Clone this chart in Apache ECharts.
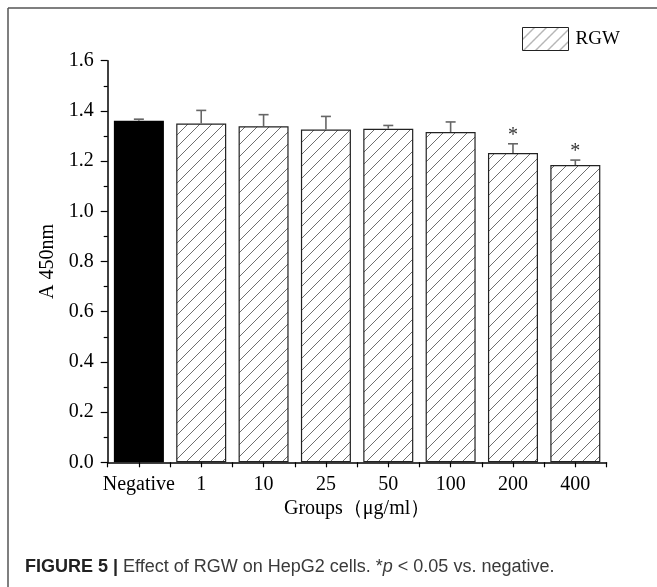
<!DOCTYPE html>
<html>
<head>
<meta charset="utf-8">
<script src="https://cdn.jsdelivr.net/npm/echarts@6/dist/echarts.min.js"></script>
<style>
html,body{margin:0;padding:0;background:#fff;}
#chart{width:657px;height:587px;}
</style>
</head>
<body>
<div id="chart"></div>
<script>
// ---- data ----
var categories = ['Negative', '1', '10', '25', '50', '100', '200', '400'];
var means = [1.361, 1.350, 1.339, 1.326, 1.329, 1.316, 1.232, 1.184];
var errors = [0.006, 0.052, 0.046, 0.052, 0.013, 0.040, 0.037, 0.020];
var marks = ['', '', '', '', '', '', '*', '*'];
var yTicks = { min: 0, max: 1.6, interval: 0.2 };
var seriesName = 'RGW';

// hatch pattern
function makeHatch() {
  var s = 12;
  var c = document.createElement('canvas');
  c.width = s; c.height = s;
  var ctx = c.getContext('2d');
  ctx.fillStyle = '#fff';
  ctx.fillRect(0, 0, s, s);
  ctx.strokeStyle = '#6e6e6e';
  ctx.lineWidth = 1;
  ctx.beginPath();
  ctx.moveTo(-1, s + 1); ctx.lineTo(s + 1, -1);
  ctx.moveTo(-1, 1); ctx.lineTo(1, -1);
  ctx.moveTo(s - 1, s + 1); ctx.lineTo(s + 1, s - 1);
  ctx.stroke();
  return c;
}
var hatch = { image: makeHatch(), repeat: 'repeat' };

var barData = means.map(function (v, i) {
  if (i === 0) return { value: v, itemStyle: { color: '#000', borderColor: '#000' } };
  return v;
});
var errData = means.map(function (v, i) { return [i, v, errors[i]]; });

var chart = echarts.init(document.getElementById('chart'), null, { renderer: 'canvas' });
var serif = 'Liberation Serif';
var option = {
  animation: false,
  backgroundColor: '#fff',
  grid: { left: 107.7, right: 50.5, top: 60.7, bottom: 124.7, containLabel: false },
  legend: {
    data: [{ name: seriesName, icon: 'rect' }],
    left: 517, top: 22,
    itemWidth: 46, itemHeight: 23,
    itemGap: 5,
    itemStyle: { borderColor: '#222', borderWidth: 1 },
    textStyle: { fontFamily: serif, fontSize: 19, color: '#000', padding: [0, 0, 0, 2] },
    selectedMode: false
  },
  xAxis: [{
    type: 'category',
    data: categories,
    position: 'bottom',
    axisLine: { lineStyle: { color: '#000', width: 1.5 } },
    axisTick: { show: true, inside: false, length: 5, lineStyle: { color: '#000', width: 1.2 } },
    axisLabel: { fontFamily: serif, fontSize: 20, color: '#000', margin: 12, interval: 0 },
    name: 'Groups（μg/ml）',
    nameLocation: 'middle',
    nameGap: 34,
    nameTextStyle: { fontFamily: serif, fontSize: 20, color: '#000' }
  }, {
    type: 'category',
    data: categories,
    position: 'bottom',
    axisLine: { show: false },
    axisTick: { show: true, alignWithLabel: true, interval: 0, length: 5, lineStyle: { color: '#000', width: 1.2 } },
    axisLabel: { show: false }
  }],
  yAxis: {
    type: 'value',
    min: yTicks.min, max: yTicks.max, interval: yTicks.interval,
    axisLine: { show: true, lineStyle: { color: '#000', width: 1.5 } },
    axisTick: { show: true, length: 7, lineStyle: { color: '#000', width: 1.2 } },
    minorTick: { show: true, splitNumber: 2, length: 4, lineStyle: { color: '#000', width: 1.2 } },
    splitLine: { show: false },
    axisLabel: {
      fontFamily: serif, fontSize: 20, color: '#000', margin: 14,
      formatter: function (v) { return v.toFixed(1); }
    },
    name: 'A 450nm',
    nameLocation: 'middle',
    nameGap: 42,
    nameRotate: 90,
    nameTextStyle: { fontFamily: serif, fontSize: 20, color: '#000' }
  },
  series: [{
    name: seriesName,
    type: 'bar',
    data: barData,
    barWidth: 50,
    itemStyle: { color: hatch, borderColor: '#222', borderWidth: 1.2 },
    emphasis: { disabled: true }
  }, {
    type: 'custom',
    data: errData,
    z: 5,
    renderItem: function (params, api) {
      var i = api.value(0), v = api.value(1), e = api.value(2);
      var mark = marks[params.dataIndex];
      var p0 = api.coord([i, v]);
      var p1 = api.coord([i, v + e]);
      var cap = 5;
      var style = { stroke: '#666', lineWidth: 1.6 };
      var children = [
        { type: 'line', shape: { x1: p0[0], y1: p0[1], x2: p1[0], y2: p1[1] }, style: style },
        { type: 'line', shape: { x1: p1[0] - cap, y1: p1[1], x2: p1[0] + cap, y2: p1[1] }, style: style }
      ];
      if (mark) {
        children.push({
          type: 'text',
          style: { text: mark, x: p1[0], y: p1[1] + 2, align: 'center', verticalAlign: 'bottom',
                   fontFamily: serif, fontSize: 20, fill: '#333' }
        });
      }
      return { type: 'group', children: children };
    }
  }],
  graphic: [
    { type: 'line', shape: { x1: 8, y1: 8, x2: 657, y2: 8 }, style: { stroke: '#555', lineWidth: 1.5 } },
    { type: 'line', shape: { x1: 8, y1: 8, x2: 8, y2: 587 }, style: { stroke: '#555', lineWidth: 1.5 } },
    {
      type: 'text', left: 25, top: 558,
      style: {
        text: '{b|FIGURE 5 |} Effect of RGW on HepG2 cells. *{i|p} < 0.05 vs. negative.',
        fontFamily: 'Liberation Sans', fontSize: 18, fill: '#3a3a3a',
        rich: {
          b: { fontFamily: 'Liberation Sans', fontSize: 18, fontWeight: 'bold', fill: '#222' },
          i: { fontFamily: 'Liberation Sans', fontSize: 18, fontStyle: 'italic', fill: '#3a3a3a' }
        }
      }
    }
  ]
};
chart.setOption(option);
</script>
</body>
</html>
